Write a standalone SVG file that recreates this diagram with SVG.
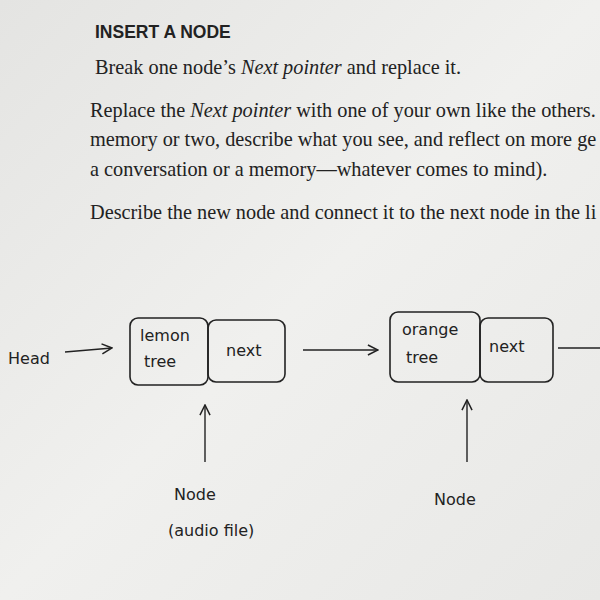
<svg xmlns="http://www.w3.org/2000/svg" width="600" height="600" viewBox="0 0 600 600">
<defs>
<linearGradient id="bg" x1="0" y1="0" x2="1" y2="1"><stop offset="0" stop-color="#e4e4e2"/><stop offset="0.5" stop-color="#f0f0ee"/><stop offset="1" stop-color="#e8e8e6"/></linearGradient>
<marker id="ah" viewBox="0 0 10 10" refX="9" refY="5" markerWidth="9" markerHeight="9" orient="auto"><path d="M1,1 L9,5 L1,9" fill="none" stroke="#222" stroke-width="1.2"/></marker>
</defs>
<style>
.s{font-family:"Liberation Serif",serif;font-size:20.3px;fill:#222}
.h{font-family:"Liberation Sans",sans-serif;font-size:17.5px;font-weight:bold;fill:#222}
.hw{font-family:"DejaVu Sans",sans-serif;font-size:16px;fill:#222}
.b{fill:none;stroke:#222;stroke-width:1.6}
.c{stroke:#222;stroke-width:1.4;fill:none}
</style>
<rect width="600" height="600" fill="url(#bg)"/>
<text class="h" x="95" y="38">INSERT A NODE</text>
<text class="s" x="95" y="74">Break one node’s <tspan font-style="italic">Next pointer</tspan> and replace it.</text>
<text class="s" x="90" y="117">Replace the <tspan font-style="italic">Next pointer</tspan> with one of your own like the others. </text>
<text class="s" x="90" y="146">memory or two, describe what you see, and reflect on more ge</text>
<text class="s" x="90" y="176">a conversation or a memory—whatever comes to mind).</text>
<text class="s" x="90" y="219">Describe the new node and connect it to the next node in the li</text>
<g id="head"><text class="hw" x="8" y="364" font-size="19">Head</text></g>
<g id="node1">
<rect class="b" x="130" y="318" width="78" height="67" rx="8"/>
<rect class="b" x="208" y="320" width="77" height="62" rx="8"/>
<text class="hw" x="140" y="341">lemon</text>
<text class="hw" x="144" y="367">tree</text>
<text class="hw" x="226" y="356">next</text>
</g>
<g id="node2">
<rect class="b" x="390" y="312" width="90" height="70" rx="8"/>
<rect class="b" x="480" y="318" width="73" height="64" rx="8"/>
<text class="hw" x="402" y="335">orange</text>
<text class="hw" x="406" y="363">tree</text>
<text class="hw" x="489" y="352">next</text>
</g>
<g id="label1"><text class="hw" x="174" y="500" font-size="18">Node</text><text class="hw" x="168" y="536" font-size="18">(audio file)</text></g>
<g id="label2"><text class="hw" x="434" y="505" font-size="18">Node</text></g>
<g id="connectors">
<line class="c" x1="65" y1="352" x2="112" y2="348" marker-end="url(#ah)"/>
<line class="c" x1="303" y1="350" x2="378" y2="350" marker-end="url(#ah)"/>
<line class="c" x1="558" y1="348" x2="600" y2="348"/>
<line class="c" x1="205" y1="462" x2="205" y2="405" marker-end="url(#ah)"/>
<line class="c" x1="467" y1="462" x2="467" y2="400" marker-end="url(#ah)"/>
</g>
</svg>
